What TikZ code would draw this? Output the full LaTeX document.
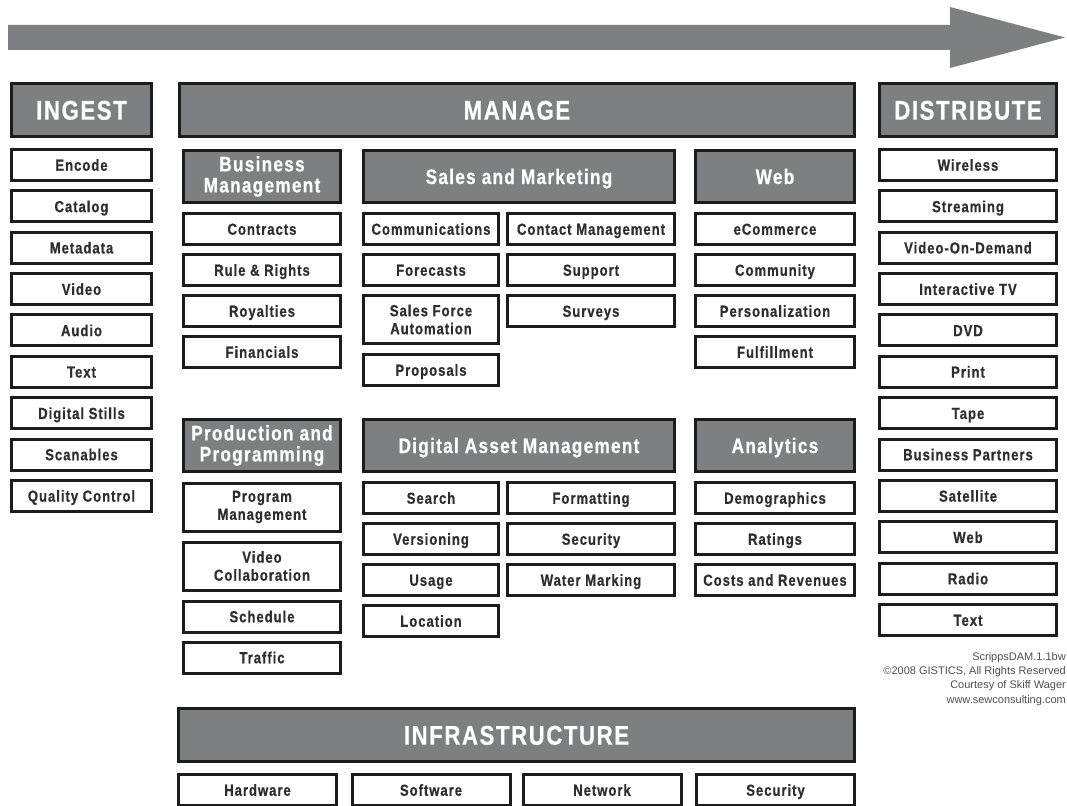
\documentclass[tikz,border=0pt]{standalone}
\usepackage{fontspec}
\newfontfamily\chartfont[FakeStretch=0.82,LetterSpace=6,BoldFeatures={FakeBold=0.6}]{Liberation Sans}
\newfontfamily\notefont{Liberation Sans}
\definecolor{boxgray}{HTML}{7E7F81}
\definecolor{boxline}{HTML}{1C1C1C}
\definecolor{itemtext}{HTML}{2E2E2E}
\definecolor{notetext}{HTML}{505050}

\begin{document}
\begin{tikzpicture}[x=1pt,y=-1pt,
  box/.style={rectangle,draw=boxline,line width=3pt,inner sep=0pt,align=center},
  head node/.style={box,fill=boxgray,text=white,minimum height=53pt,
    font=\chartfont\bfseries\fontsize{27}{30}\selectfont,text height=19.3pt,text depth=0pt},
  sub node/.style={box,fill=boxgray,text=white,minimum height=52pt,
    font=\chartfont\bfseries\fontsize{21}{21}\selectfont,text height=15pt,text depth=0pt},
  two sub/.style={sub node,text height=,text depth=},
  item node/.style={box,fill=white,text=itemtext,minimum height=31pt,
    font=\chartfont\bfseries\fontsize{16}{18}\selectfont,text height=11.5pt,text depth=0pt},
  tall node/.style={item node,minimum height=48pt,text height=,text depth=},
  ingest node/.style={item node,minimum width=140pt},
  dist node/.style={item node,minimum width=177pt},
  mid node/.style={item node,minimum width=157pt},
  left node/.style={item node,minimum width=135pt},
  right node/.style={item node,minimum width=167pt},
  web node/.style={item node,minimum width=159pt},
  infra node/.style={item node,minimum width=158pt}]

  \useasboundingbox (0,0) rectangle (1067,805);
  \fill[white] (0,0) rectangle (1067,805);

  % flow arrow across the top
  \fill[boxgray] (8,25) -- (950,25) -- (950,7) -- (1065,37.5) -- (950,68)
    -- (950,50) -- (8,50) -- cycle;

  % main headers
  \node[head node,minimum width=140pt] (ingest) at (81.5,110) {INGEST};
  \node[head node,minimum width=675pt] (manage) at (517,110) {MANAGE};
  \node[head node,minimum width=177pt] (distribute) at (968,110) {DISTRIBUTE};
  \node[head node,minimum width=676pt] (infra) at (516.5,735) {INFRASTRUCTURE};

  % ingest column
  \node[ingest node] (encode) at (81.5,165) {Encode};
  \node[ingest node] (catalog) at (81.5,206.4) {Catalog};
  \node[ingest node] (metadata) at (81.5,247.7) {Metadata};
  \node[ingest node] (video) at (81.5,289.1) {Video};
  \node[ingest node] (audio) at (81.5,330.4) {Audio};
  \node[ingest node] (text) at (81.5,371.8) {Text};
  \node[ingest node] (stills) at (81.5,413.2) {Digital Stills};
  \node[ingest node] (scan) at (81.5,454.5) {Scanables};
  \node[ingest node] (quality) at (81.5,495.9) {Quality Control};

  % distribute column
  \node[dist node] (wireless) at (968,165) {Wireless};
  \node[dist node] (streaming) at (968,206.4) {Streaming};
  \node[dist node] (vod) at (968,247.7) {Video-On-Demand};
  \node[dist node] (itv) at (968,289.1) {Interactive TV};
  \node[dist node] (dvd) at (968,330.4) {DVD};
  \node[dist node] (print) at (968,371.8) {Print};
  \node[dist node] (tape) at (968,413.2) {Tape};
  \node[dist node] (partners) at (968,454.5) {Business Partners};
  \node[dist node] (satellite) at (968,495.9) {Satellite};
  \node[dist node] (dweb) at (968,537.2) {Web};
  \node[dist node] (radio) at (968,578.6) {Radio};
  \node[dist node] (dtext) at (968,620) {Text};

  % business management
  \node[two sub,minimum width=157pt] (business) at (262,176.5) {Business\\Management};
  \node[mid node] (contracts) at (262,229) {Contracts};
  \node[mid node] (rights) at (262,270) {Rule \& Rights};
  \node[mid node] (royalties) at (262,311) {Royalties};
  \node[mid node] (financials) at (262,352) {Financials};

  % sales and marketing
  \node[sub node,minimum width=311pt] (sales) at (519,176.5) {Sales and Marketing};
  \node[left node] (comms) at (431,229) {Communications};
  \node[left node] (forecasts) at (431,270) {Forecasts};
  \node[tall node,minimum width=135pt] (sfa) at (431,319.5) {Sales Force\\Automation};
  \node[left node] (proposals) at (431,370) {Proposals};
  \node[right node] (contact) at (591,229) {Contact Management};
  \node[right node] (support) at (591,270) {Support};
  \node[right node] (surveys) at (591,311) {Surveys};

  % web
  \node[sub node,minimum width=159pt] (web) at (775,176.5) {Web};
  \node[web node] (ecommerce) at (775,229) {eCommerce};
  \node[web node] (community) at (775,270) {Community};
  \node[web node] (personal) at (775,311) {Personalization};
  \node[web node] (fulfil) at (775,352) {Fulfillment};

  % production and programming
  \node[two sub,minimum width=157pt] (production) at (262,445.5) {Production and\\Programming};
  \node[tall node,minimum width=157pt] (program) at (262,507) {Program\\Management};
  \node[tall node,minimum width=157pt] (collab) at (262,566) {Video\\Collaboration};
  \node[mid node] (schedule) at (262,616.5) {Schedule};
  \node[mid node] (traffic) at (262,657.5) {Traffic};

  % digital asset management
  \node[sub node,minimum width=311pt] (dam) at (519,445.5) {Digital Asset Management};
  \node[left node] (search) at (431,498) {Search};
  \node[left node] (versioning) at (431,539) {Versioning};
  \node[left node] (usage) at (431,580) {Usage};
  \node[left node] (location) at (431,621) {Location};
  \node[right node] (formatting) at (591,498) {Formatting};
  \node[right node] (security) at (591,539) {Security};
  \node[right node] (watermark) at (591,580) {Water Marking};

  % analytics
  \node[sub node,minimum width=159pt] (analytics) at (775,445.5) {Analytics};
  \node[web node] (demographics) at (775,498) {Demographics};
  \node[web node] (ratings) at (775,539) {Ratings};
  \node[web node] (costs) at (775,580) {Costs and Revenues};

  % infrastructure row
  \node[infra node] (hardware) at (257.5,790) {Hardware};
  \node[infra node] (software) at (431,790) {Software};
  \node[infra node] (network) at (602,790) {Network};
  \node[infra node] (isecurity) at (775.5,790) {Security};

  \node[anchor=north east,align=right,inner sep=0pt,text=notetext,
    font=\notefont\fontsize{11}{14.3}\selectfont] (credit) at (1066,652)
    {ScrippsDAM.1.1bw\\\textcopyright2008 GISTICS, All Rights Reserved\\
     Courtesy of Skiff Wager\\www.sewconsulting.com};
\end{tikzpicture}
\end{document}
